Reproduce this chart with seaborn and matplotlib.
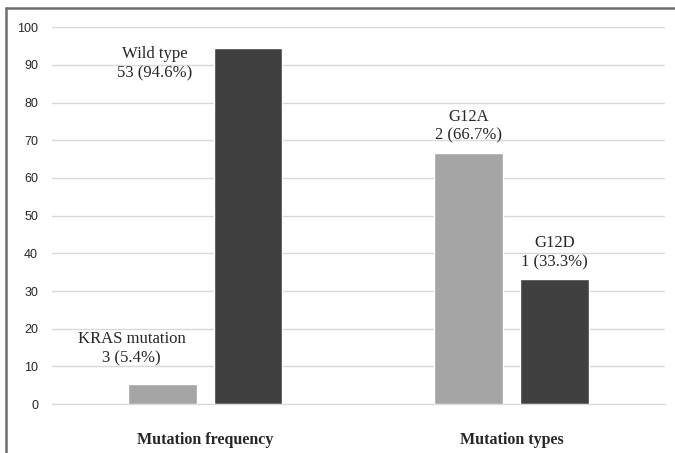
import pandas as pd
import matplotlib.pyplot as plt
import seaborn as sns
from matplotlib.lines import Line2D

# данные
groups = ['Mutation frequency', 'Mutation frequency', 'Mutation types', 'Mutation types']
slots = ['first', 'second', 'first', 'second']
values = [5.4, 94.6, 66.7, 33.3]
names = ['KRAS mutation', 'Wild type', 'G12A', 'G12D']
counts = ['3 (5.4%)', '53 (94.6%)', '2 (66.7%)', '1 (33.3%)']
yticks = [0, 10, 20, 30, 40, 50, 60, 70, 80, 90, 100]

data = pd.DataFrame({'group': groups, 'slot': slots, 'value': values})

sns.set_style('white')
plt.rcParams['font.family'] = ['Liberation Serif', 'DejaVu Serif']

fig = plt.figure(figsize=(6.75, 4.53), dpi=100)
ax = fig.add_axes([0.077, 0.108, 0.908, 0.832])

sns.barplot(data=data, x='group', y='value', hue='slot',
            palette={'first': '#a5a5a5', 'second': '#404040'},
            width=0.56, gap=0.2, legend=False, ax=ax, saturation=1)

ax.set_ylim(0, 100)
ax.set_yticks(yticks)
ax.yaxis.grid(True, color='#d9d9d9', linewidth=1)
ax.set_axisbelow(True)
for s in ['top', 'right', 'left']:
    ax.spines[s].set_visible(False)
ax.spines['bottom'].set_color('#d9d9d9')
ax.set_xlabel('')
ax.set_ylabel('')
ax.tick_params(axis='y', length=0, pad=10, labelsize=9)
ax.tick_params(axis='x', length=0, pad=20)
for lab in ax.get_yticklabels():
    lab.set_fontfamily('Liberation Sans')
for lab in ax.get_xticklabels():
    lab.set_fontweight('bold')
    lab.set_fontsize(11.5)

# подписи над столбиками (смещения от столбика)
bar_x = [-0.14, 0.14, 0.86, 1.14]
dx = [-0.10, -0.306, 0.0, 0.0]
dy = [9.3, -4.3, 7.0, 6.9]
for i in range(len(values)):
    ax.text(bar_x[i] + dx[i], values[i] + dy[i], names[i] + '\n' + counts[i],
            ha='center', va='center', multialignment='center',
            fontsize=12, linespacing=1.25)

# рамка
fig.add_artist(Line2D([0.0089, 1], [0.982, 0.982], transform=fig.transFigure,
                      color='#6e6e6e', linewidth=1.8))
fig.add_artist(Line2D([0.0089, 0.0089], [0, 0.982], transform=fig.transFigure,
                      color='#6e6e6e', linewidth=1.8))

fig.savefig('out.png', dpi=100)
